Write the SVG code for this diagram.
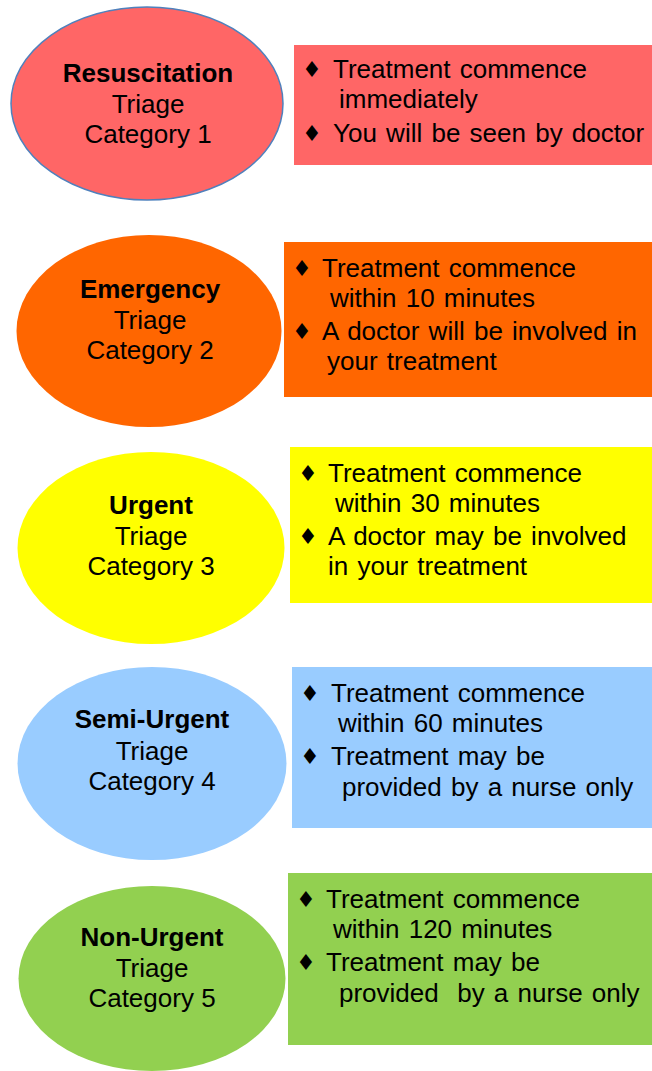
<svg xmlns="http://www.w3.org/2000/svg" width="652" height="1071" viewBox="0 0 652 1071">
<style>
.t{font-family:"Liberation Sans",Arial,sans-serif;font-size:26px;fill:#000}
.w{word-spacing:2px}
.c{text-anchor:middle}
.b{font-weight:bold}
.d{font-family:"DejaVu Sans",sans-serif;font-size:22px}
</style>
<rect width="652" height="1071" fill="#fff"/>
<g id="cat1">
<ellipse cx="147" cy="103.5" rx="136" ry="96.5" fill="#ff6666" stroke="#4f81bd" stroke-width="1.5"/>
<text class="t c b" x="148" y="82">Resuscitation</text>
<text class="t c" x="148" y="113">Triage</text>
<text class="t c" x="148" y="143">Category 1</text>
</g>
<g id="info1">
<rect x="294" y="45" width="358" height="120" fill="#ff6666"/>
<text class="t d" x="302" y="77">♦</text><text class="t w" x="333" y="78">Treatment commence</text>
<text class="t w" x="339" y="108">immediately</text>
<text class="t d" x="302" y="141">♦</text><text class="t w" x="333" y="142">You will be seen by doctor</text>
</g>
<g id="cat2">
<ellipse cx="149" cy="331" rx="132.5" ry="96" fill="#ff6600"/>
<text class="t c b" x="150" y="298">Emergency</text>
<text class="t c" x="150" y="329">Triage</text>
<text class="t c" x="150" y="359">Category 2</text>
</g>
<g id="info2">
<rect x="284" y="242" width="368" height="155" fill="#ff6600"/>
<text class="t d" x="292" y="276">♦</text><text class="t w" x="322" y="277">Treatment commence</text>
<text class="t w" x="330" y="307">within 10 minutes</text>
<text class="t d" x="292" y="339">♦</text><text class="t w" x="322" y="340">A doctor will be involved in</text>
<text class="t w" x="327" y="370">your treatment</text>
</g>
<g id="cat3">
<ellipse cx="151" cy="548" rx="133.5" ry="96" fill="#ffff00"/>
<text class="t c b" x="151" y="514">Urgent</text>
<text class="t c" x="151" y="545">Triage</text>
<text class="t c" x="151" y="575">Category 3</text>
</g>
<g id="info3">
<rect x="290" y="447" width="362" height="156" fill="#ffff00"/>
<text class="t d" x="298" y="481">♦</text><text class="t w" x="328" y="482">Treatment commence</text>
<text class="t w" x="335" y="512">within 30 minutes</text>
<text class="t d" x="298" y="544">♦</text><text class="t w" x="328" y="545">A doctor may be involved</text>
<text class="t w" x="328" y="575">in your treatment</text>
</g>
<g id="cat4">
<ellipse cx="152" cy="763.5" rx="134.5" ry="96.5" fill="#99ccff"/>
<text class="t c b" x="152" y="728">Semi-Urgent</text>
<text class="t c" x="152" y="760">Triage</text>
<text class="t c" x="152" y="790">Category 4</text>
</g>
<g id="info4">
<rect x="292" y="667" width="360" height="161" fill="#99ccff"/>
<text class="t d" x="300" y="701">♦</text><text class="t w" x="331" y="702">Treatment commence</text>
<text class="t w" x="338" y="732">within 60 minutes</text>
<text class="t d" x="300" y="764">♦</text><text class="t w" x="331" y="765">Treatment may be</text>
<text class="t w" x="342" y="796">provided by a nurse only</text>
</g>
<g id="cat5">
<ellipse cx="152" cy="978.5" rx="133.5" ry="92.5" fill="#92d050"/>
<text class="t c b" x="152" y="946">Non-Urgent</text>
<text class="t c" x="152" y="977">Triage</text>
<text class="t c" x="152" y="1007">Category 5</text>
</g>
<g id="info5">
<rect x="288" y="873" width="364" height="172" fill="#92d050"/>
<text class="t d" x="296" y="907">♦</text><text class="t w" x="326" y="908">Treatment commence</text>
<text class="t w" x="333" y="938">within 120 minutes</text>
<text class="t d" x="296" y="970">♦</text><text class="t w" x="326" y="971">Treatment may be</text>
<text class="t w" x="339" y="1002" xml:space="preserve">provided  by a nurse only</text>
</g>
<g id="connectors"/>
</svg>
